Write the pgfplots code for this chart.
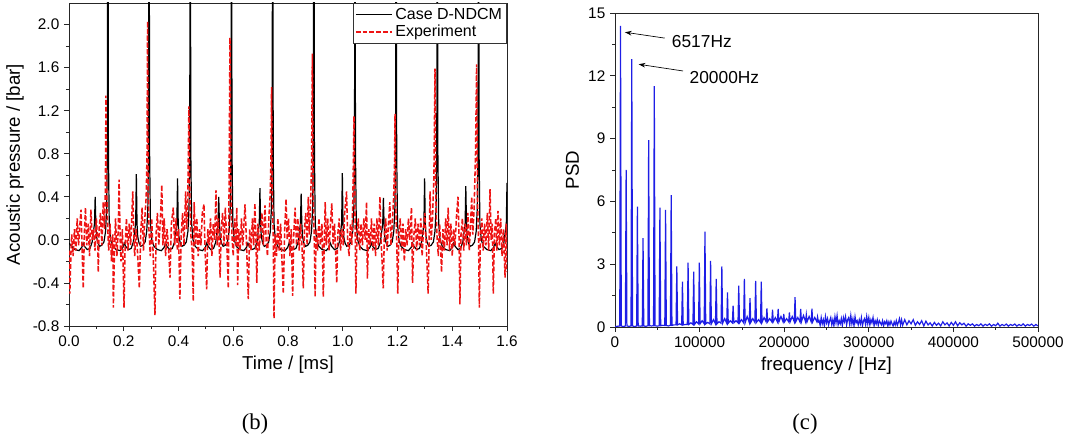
\documentclass[border=0pt]{standalone}
\usepackage{fontspec}
\setmainfont{Liberation Sans}
\newfontfamily\serifb{Liberation Serif}
\usepackage{pgfplots}
\pgfplotsset{compat=1.18}
\usetikzlibrary{arrows.meta}
\definecolor{expred}{RGB}{238,20,20}
\definecolor{psdblue}{RGB}{30,30,230}
\pgfplotsset{
  common/.style={
    scale only axis,
    axis line style={line width=0.7pt, black!85},
    tick align=outside,
    xtick pos=left, ytick pos=left,
    major tick length=3.75pt, minor tick length=2.25pt,
    every tick/.style={black!85, line width=0.6pt},
    minor x tick num=1, minor y tick num=1,
    /pgf/number format/assume math mode=true,
    tick label style={font=\fontsize{11.5}{13}\selectfont},
    label style={font=\fontsize{14}{16}\selectfont},
  }
}
\begin{document}
\begin{tikzpicture}
\useasboundingbox (0,0) rectangle (801pt,330.75pt);
\begin{axis}[common,
  at={(51.75pt,86.25pt)}, anchor=south west,
  width=328.5pt, height=242.25pt,
  xmin=0, xmax=1.6, ymin=-0.8, ymax=2.2,
  xtick={0,0.2,...,1.6}, ytick={-0.8,-0.4,0,0.4,0.8,1.2,1.6,2.0},
  xticklabel style={/pgf/number format/.cd, fixed, fixed zerofill, precision=1},
  yticklabel style={/pgf/number format/.cd, fixed, fixed zerofill, precision=1},
  xlabel={Time / [ms]}, ylabel={Acoustic pressure / [bar]},
  legend style={at={(1,1)}, anchor=north east, draw=black!80, line width=0.5pt,
    font=\fontsize{12}{13}\selectfont, inner sep=1.5pt, row sep=-1pt},
  legend cell align=left,
  legend image code/.code={\draw[#1] (0pt,0pt) -- (27pt,0pt);},
]
\addplot[black, line width=0.9pt] coordinates {
(0.000,-0.03)(0.0096,-0.06)(0.0216,-0.09)(0.0366,-0.10)(0.0466,-0.07)(0.0516,-0.03)(0.0566,-0.06)(0.0666,-0.09)(0.0766,-0.08)(0.0846,-0.02)
(0.0906,0.10)(0.0931,0.15)(0.0956,0.40)(0.0981,0.15)(0.1006,0.03)(0.1056,-0.03)(0.1116,-0.06)(0.1196,-0.05)(0.1276,-0.02)(0.1336,0.08)(0.1376,0.3)(0.1401,0.8)
(0.142,4.0)(0.144,0.8)(0.147,0.15)(0.152,0.0)(0.160,-0.06)(0.172,-0.09)(0.187,-0.10)(0.197,-0.07)(0.202,-0.03)(0.207,-0.06)(0.217,-0.09)(0.227,-0.08)(0.235,-0.02)
(0.241,0.10)(0.2435,0.15)(0.246,0.61)(0.2485,0.15)(0.251,0.03)(0.256,-0.03)(0.262,-0.06)(0.270,-0.05)(0.278,-0.02)(0.284,0.08)(0.288,0.3)(0.2905,0.8)
(0.2925,4.0)(0.2945,0.8)(0.2975,0.15)(0.3025,0.0)(0.3105,-0.06)(0.3225,-0.09)(0.3375,-0.10)(0.3475,-0.07)(0.3525,-0.03)(0.3575,-0.06)(0.3675,-0.09)(0.3775,-0.08)(0.3855,-0.02)
(0.3915,0.10)(0.3940,0.15)(0.3965,0.57)(0.3990,0.15)(0.4015,0.03)(0.4065,-0.03)(0.4125,-0.06)(0.4205,-0.05)(0.4285,-0.02)(0.4345,0.08)(0.4385,0.3)(0.4410,0.8)
(0.443,4.0)(0.445,0.8)(0.448,0.15)(0.453,0.0)(0.461,-0.06)(0.473,-0.09)(0.488,-0.10)(0.498,-0.07)(0.503,-0.03)(0.508,-0.06)(0.518,-0.09)(0.528,-0.08)(0.536,-0.02)
(0.542,0.10)(0.5445,0.15)(0.547,0.40)(0.5495,0.15)(0.552,0.03)(0.557,-0.03)(0.563,-0.06)(0.571,-0.05)(0.579,-0.02)(0.585,0.08)(0.589,0.3)(0.5915,0.8)
(0.5935,4.0)(0.5955,0.8)(0.5985,0.15)(0.6035,0.0)(0.6115,-0.06)(0.6235,-0.09)(0.6385,-0.10)(0.6485,-0.07)(0.6535,-0.03)(0.6585,-0.06)(0.6685,-0.09)(0.6785,-0.08)(0.6865,-0.02)
(0.6925,0.10)(0.6950,0.15)(0.6975,0.48)(0.7000,0.15)(0.7025,0.03)(0.7075,-0.03)(0.7135,-0.06)(0.7215,-0.05)(0.7295,-0.02)(0.7355,0.08)(0.7395,0.3)(0.7420,0.8)
(0.744,4.0)(0.746,0.8)(0.749,0.15)(0.754,0.0)(0.762,-0.06)(0.774,-0.09)(0.789,-0.10)(0.799,-0.07)(0.804,-0.03)(0.809,-0.06)(0.819,-0.09)(0.829,-0.08)(0.837,-0.02)
(0.843,0.10)(0.8455,0.15)(0.848,0.43)(0.8505,0.15)(0.853,0.03)(0.858,-0.03)(0.864,-0.06)(0.872,-0.05)(0.880,-0.02)(0.886,0.08)(0.890,0.3)(0.8925,0.8)
(0.8945,4.0)(0.8965,0.8)(0.8995,0.15)(0.9045,0.0)(0.9125,-0.06)(0.9245,-0.09)(0.9395,-0.10)(0.9495,-0.07)(0.9545,-0.03)(0.9595,-0.06)(0.9695,-0.09)(0.9795,-0.08)(0.9875,-0.02)
(0.9935,0.10)(0.9960,0.15)(0.9985,0.62)(1.0010,0.15)(1.0035,0.03)(1.0085,-0.03)(1.0145,-0.06)(1.0225,-0.05)(1.0305,-0.02)(1.0365,0.08)(1.0405,0.3)(1.0430,0.8)
(1.0445,4.0)(1.0465,0.8)(1.0495,0.15)(1.0545,0.0)(1.0625,-0.06)(1.0745,-0.09)(1.0895,-0.10)(1.0995,-0.07)(1.1045,-0.03)(1.1095,-0.06)(1.1195,-0.09)(1.1295,-0.08)(1.1375,-0.02)
(1.1435,0.10)(1.1460,0.15)(1.1485,0.39)(1.1510,0.15)(1.1535,0.03)(1.1585,-0.03)(1.1645,-0.06)(1.1725,-0.05)(1.1805,-0.02)(1.1865,0.08)(1.1905,0.3)(1.1930,0.8)
(1.195,4.0)(1.197,0.8)(1.200,0.15)(1.205,0.0)(1.213,-0.06)(1.225,-0.09)(1.240,-0.10)(1.250,-0.07)(1.255,-0.03)(1.260,-0.06)(1.270,-0.09)(1.280,-0.08)(1.288,-0.02)
(1.294,0.10)(1.2965,0.15)(1.299,0.57)(1.3015,0.15)(1.304,0.03)(1.309,-0.03)(1.315,-0.06)(1.323,-0.05)(1.331,-0.02)(1.337,0.08)(1.341,0.3)(1.3435,0.8)
(1.3455,4.0)(1.3475,0.8)(1.3505,0.15)(1.3555,0.0)(1.3635,-0.06)(1.3755,-0.09)(1.3905,-0.10)(1.4005,-0.07)(1.4055,-0.03)(1.4105,-0.06)(1.4205,-0.09)(1.4305,-0.08)(1.4385,-0.02)
(1.4445,0.10)(1.4470,0.15)(1.4495,0.50)(1.4520,0.15)(1.4545,0.03)(1.4595,-0.03)(1.4655,-0.06)(1.4735,-0.05)(1.4815,-0.02)(1.4875,0.08)(1.4915,0.3)(1.4940,0.8)
(1.496,4.0)(1.498,0.8)(1.501,0.15)(1.506,0.0)(1.514,-0.06)(1.526,-0.09)(1.541,-0.10)(1.551,-0.07)(1.556,-0.03)(1.561,-0.06)(1.571,-0.09)(1.581,-0.08)(1.589,-0.02)
(1.595,0.10)(1.5975,0.15)(1.600,0.53)
};
\addplot[expred, line width=1.15pt, dash pattern=on 3.5pt off 1.6pt] coordinates {
(0.000,-0.10)(0.003,-0.50)(0.008,-0.05)(0.010,0.05)(0.015,-0.15)(0.020,0.10)(0.025,-0.10)(0.030,0.20)(0.035,-0.05)(0.040,0.15)
(0.044,0.28)(0.048,-0.10)(0.052,-0.45)(0.056,0.05)(0.060,0.30)(0.065,-0.05)(0.070,0.15)(0.075,-0.15)(0.080,0.28)(0.085,0.00)
(0.090,0.10)(0.095,-0.10)(0.100,0.20)(0.105,-0.05)(0.107,-0.30)(0.110,0.10)(0.115,0.25)(0.120,-0.05)(0.125,0.35)(0.130,0.10)
(0.133,0.50)(0.135,1.34)(0.137,0.60)(0.140,0.20)(0.145,-0.10)(0.150,0.15)(0.155,-0.20)(0.160,0.05)(0.162,-0.63)(0.166,-0.10)
(0.170,0.20)(0.175,-0.15)(0.180,0.10)(0.183,0.56)(0.187,0.00)(0.190,-0.20)(0.195,0.10)(0.201,-0.63)(0.205,-0.05)(0.210,0.20)
(0.215,-0.10)(0.220,0.15)(0.225,-0.05)(0.230,0.25)(0.233,0.45)(0.237,0.00)(0.240,-0.15)(0.245,0.10)(0.250,-0.10)(0.257,-0.45)
(0.262,0.05)(0.267,0.30)(0.272,-0.10)(0.277,0.20)(0.282,0.40)(0.285,0.80)(0.287,2.03)(0.289,0.60)(0.292,0.10)(0.297,-0.15)
(0.302,0.20)(0.307,-0.10)(0.314,-0.70)(0.318,0.05)(0.323,0.25)(0.328,-0.05)(0.333,0.15)(0.339,0.51)(0.343,-0.05)(0.348,0.20)
(0.353,-0.15)(0.358,0.10)(0.363,-0.05)(0.369,-0.35)(0.374,0.15)(0.381,0.30)(0.386,-0.05)(0.391,0.20)(0.396,-0.10)(0.400,0.10)
(0.405,-0.55)(0.410,0.05)(0.415,0.25)(0.420,-0.05)(0.426,0.45)(0.430,0.10)(0.434,0.40)(0.438,1.24)(0.441,0.50)(0.445,0.05)
(0.450,-0.10)(0.454,-0.57)(0.457,0.35)(0.462,-0.05)(0.467,0.20)(0.472,-0.15)(0.477,0.10)(0.482,-0.05)(0.487,0.25)(0.493,0.33)
(0.497,-0.10)(0.503,-0.46)(0.507,0.10)(0.512,-0.05)(0.517,0.20)(0.522,-0.15)(0.527,0.15)(0.532,0.00)(0.537,0.46)(0.541,-0.05)
(0.546,0.20)(0.552,-0.35)(0.556,0.10)(0.561,0.25)(0.566,-0.05)(0.571,0.30)(0.576,0.00)(0.582,-0.45)(0.585,0.60)(0.588,1.88)
(0.591,0.50)(0.595,0.05)(0.600,-0.15)(0.605,0.20)(0.610,-0.05)(0.613,0.30)(0.616,-0.42)(0.620,0.10)(0.625,-0.10)(0.630,0.20)
(0.635,-0.05)(0.643,0.33)(0.648,0.00)(0.655,-0.55)(0.660,0.10)(0.665,-0.10)(0.670,0.20)(0.675,-0.05)(0.679,0.34)(0.683,0.00)
(0.686,-0.40)(0.690,0.15)(0.695,-0.10)(0.700,0.10)(0.705,0.25)(0.710,-0.05)(0.716,0.32)(0.720,0.00)(0.725,-0.15)(0.730,0.20)
(0.735,0.42)(0.738,0.80)(0.740,1.42)(0.742,0.50)(0.746,0.05)(0.749,-0.73)(0.753,0.05)(0.758,-0.15)(0.763,0.20)(0.768,-0.10)
(0.773,0.15)(0.778,-0.20)(0.783,-0.50)(0.788,0.10)(0.793,0.38)(0.797,0.00)(0.802,0.20)(0.807,-0.15)(0.812,0.10)(0.817,-0.52)
(0.821,0.05)(0.826,0.30)(0.831,-0.05)(0.836,0.20)(0.841,-0.10)(0.846,0.15)(0.851,-0.05)(0.856,-0.45)(0.860,0.10)(0.865,0.25)
(0.870,-0.05)(0.874,0.40)(0.878,0.05)(0.882,0.30)(0.886,0.70)(0.889,1.73)(0.892,0.40)(0.896,0.00)(0.899,-0.53)(0.903,0.10)
(0.908,-0.10)(0.913,0.20)(0.918,-0.05)(0.924,0.15)(0.929,-0.53)(0.933,0.05)(0.936,0.35)(0.940,-0.05)(0.945,0.20)(0.950,-0.10)
(0.955,0.15)(0.960,0.34)(0.965,-0.05)(0.970,0.15)(0.978,-0.40)(0.982,0.05)(0.987,0.20)(0.992,-0.10)(0.997,0.10)(1.002,-0.05)
(1.007,0.25)(1.014,0.45)(1.018,0.00)(1.023,-0.15)(1.028,0.15)(1.033,-0.05)(1.037,0.40)(1.041,1.15)(1.044,0.40)(1.048,-0.50)
(1.052,0.05)(1.057,0.20)(1.062,-0.10)(1.067,0.15)(1.072,-0.05)(1.077,0.20)(1.082,0.00)(1.087,0.35)(1.090,-0.36)(1.095,0.10)
(1.100,-0.05)(1.105,0.20)(1.110,-0.10)(1.115,0.15)(1.120,-0.15)(1.125,0.20)(1.130,-0.05)(1.136,0.40)(1.140,0.00)(1.148,-0.45)
(1.152,0.05)(1.157,0.20)(1.162,-0.10)(1.167,0.15)(1.172,0.35)(1.176,-0.05)(1.181,0.15)(1.186,0.40)(1.189,0.70)(1.191,1.17)
(1.194,0.30)(1.197,0.00)(1.201,-0.50)(1.205,0.05)(1.210,0.20)(1.215,-0.10)(1.220,0.15)(1.225,-0.20)(1.230,0.10)(1.235,-0.05)
(1.240,0.20)(1.245,0.00)(1.251,0.30)(1.255,-0.40)(1.260,0.05)(1.265,0.20)(1.270,-0.10)(1.275,0.15)(1.280,-0.05)(1.285,0.20)
(1.290,-0.15)(1.295,0.10)(1.300,0.25)(1.305,-0.05)(1.312,-0.50)(1.316,0.05)(1.319,0.45)(1.323,0.00)(1.328,0.20)(1.333,0.60)
(1.337,1.59)(1.340,0.40)(1.344,0.05)(1.349,-0.15)(1.354,0.15)(1.361,-0.30)(1.366,0.10)(1.371,-0.10)(1.376,0.20)(1.381,-0.05)
(1.385,0.30)(1.390,-0.10)(1.395,0.15)(1.400,-0.15)(1.405,0.10)(1.410,-0.05)(1.415,0.20)(1.421,0.40)(1.425,0.00)(1.428,-0.60)
(1.432,0.05)(1.437,0.20)(1.442,-0.10)(1.447,0.15)(1.452,-0.05)(1.457,0.25)(1.462,-0.10)(1.467,0.15)(1.471,0.40)(1.475,0.05)
(1.480,0.30)(1.485,0.80)(1.489,1.63)(1.492,0.40)(1.496,0.00)(1.499,-0.63)(1.503,0.05)(1.508,0.20)(1.513,-0.10)(1.518,0.15)
(1.523,-0.05)(1.528,0.25)(1.533,-0.10)(1.538,0.47)(1.542,0.00)(1.546,0.15)(1.550,-0.50)(1.554,0.05)(1.559,0.20)(1.563,-0.10)
(1.567,0.27)(1.572,-0.05)(1.577,0.20)(1.582,-0.15)(1.587,0.10)(1.593,-0.35)(1.597,0.15)(1.600,-0.30)
};
\legend{Case D-NDCM, Experiment}
\end{axis}
\begin{axis}[common,
  at={(461.25pt,85.5pt)}, anchor=south west,
  width=317.25pt, height=235.5pt,
  xmin=0, xmax=500000, ymin=0, ymax=15,
  xtick={0,100000,...,500000}, ytick={0,3,...,15},
  scaled x ticks=false,
  xticklabel style={/pgf/number format/.cd, fixed, 1000 sep={}},
  xlabel={frequency / [Hz]}, ylabel={PSD},
]
\addplot[psdblue, line width=0.9pt] coordinates {
(0,0.02)(2000,0.03)(5617,0.05)(6517,14.38)(7417,0.05)(9844,0.02)
(12272,0.05)(13172,7.5)(14072,0.05)(16499,0.03)
(18927,0.05)(19827,12.8)(20727,0.05)(23154,0.02)
(25582,0.05)(26482,5.75)(27382,0.05)(29809,0.04)
(32237,0.05)(33137,4.24)(34037,0.05)(36464,0.03)
(38892,0.06)(39792,8.93)(40692,0.06)(43119,0.05)
(45547,0.06)(46447,11.51)(47347,0.06)(49774,0.04)
(52202,0.06)(53102,5.7)(54002,0.06)(56429,0.08)
(58857,0.07)(59757,5.6)(60657,0.07)(63084,0.05)
(65512,0.08)(66412,6.3)(67312,0.08)(69739,0.10)
(72167,0.10)(73067,2.89)(73967,0.10)(76394,0.15)
(78822,0.10)(79722,2.17)(80622,0.10)(83049,0.12)
(85477,0.12)(86377,3.08)(87277,0.12)(89704,0.20)
(92132,0.12)(93032,2.65)(93932,0.12)(96359,0.25)
(98787,0.15)(99687,3.08)(100587,0.15)(103014,0.30)
(105442,0.15)(106342,4.56)(107242,0.15)(109669,0.22)
(112097,0.15)(112997,3.16)(113897,0.15)(116324,0.35)
(118752,0.15)(119652,2.30)(120552,0.15)(122979,0.25)
(125407,0.18)(126307,2.89)(127207,0.18)(129634,0.40)
(132062,0.18)(132962,1.65)(133862,0.18)(136289,0.30)
(138717,0.20)(139617,1.02)(140517,0.20)(142944,0.30)
(145372,0.20)(146272,1.97)(147172,0.20)(149599,0.35)
(152027,0.20)(152927,2.30)(153827,0.20)(156254,0.50)
(158682,0.22)(159582,1.38)(160482,0.22)(162909,0.40)
(165337,0.22)(166237,2.20)(167137,0.22)(169564,0.35)
(171992,0.22)(172892,2.17)(173792,0.22)(176219,0.45)
(178647,0.25)(179547,0.89)(180447,0.25)(182874,0.40)
(185302,0.25)(186202,0.83)(187102,0.25)(189529,0.45)
(191957,0.25)(192857,0.86)(193757,0.25)(196184,0.50)
(198612,0.25)(199512,0.62)(200412,0.25)(202839,0.40)
(205267,0.25)(206167,0.70)(207067,0.25)(209494,0.50)
(211922,0.25)(212822,1.43)(213722,0.25)(216149,0.45)
(218577,0.25)(219477,0.86)(220377,0.25)(222804,0.55)
(225232,0.25)(226132,0.59)(227032,0.25)(229459,0.50)
(231887,0.25)(232787,0.87)(233687,0.25)(236114,0.45)
(238542,0.25)(239442,0.48)(240342,0.25)
(241250,0.30)(242500,0.08)(243750,0.45)(245000,0.15)(246250,0.35)(247500,0.05)(248750,0.50)(250000,0.20)(251250,0.40)(252500,0.10)
(253750,0.30)(255000,0.45)(256250,0.10)(257500,0.35)(258750,0.05)(260000,0.50)(261250,0.20)(262500,0.55)(263750,0.10)(265000,0.30)
(266250,0.15)(267500,0.40)(268750,0.05)(270000,0.45)(271250,0.25)(272500,0.50)(273750,0.10)(275000,0.35)(276250,0.45)(277500,0.10)
(278750,0.55)(280000,0.15)(281250,0.40)(282500,0.05)(283750,0.50)(285000,0.20)(286250,0.30)(287500,0.10)(288750,0.35)(290000,0.15)
(291250,0.45)(292500,0.05)(293750,0.30)(295000,0.40)(296250,0.10)(297500,0.50)(298750,0.15)(300000,0.45)(301250,0.10)(302500,0.35)
(303750,0.20)(305000,0.45)(306250,0.05)(307500,0.30)(308750,0.15)(310000,0.35)(311250,0.08)(312500,0.30)(313750,0.20)(315000,0.10)
(316250,0.30)(317500,0.05)(318750,0.25)(320000,0.15)(321250,0.30)(322500,0.05)(323750,0.25)(325000,0.10)(326250,0.28)(327500,0.15)
(328750,0.05)(330000,0.25)(331250,0.10)(332500,0.30)(333750,0.08)(335000,0.22)(336250,0.40)(337500,0.10)(338750,0.35)(340000,0.08)
(342500,0.35)(345000,0.10)(347500,0.30)(350000,0.15)(352500,0.35)(355000,0.08)(357500,0.25)(360000,0.12)(362500,0.30)(365000,0.05)
(367500,0.28)(370000,0.10)(372500,0.20)(375000,0.05)(377500,0.22)(380000,0.08)(382500,0.18)(385000,0.05)(387500,0.25)(390000,0.10)
(392500,0.20)(395000,0.05)(397500,0.22)(400000,0.08)(402500,0.25)(405000,0.06)(407500,0.20)(410000,0.10)(412500,0.18)(415000,0.04)
(417500,0.15)(420000,0.08)(422500,0.15)(425000,0.04)(427500,0.12)(430000,0.06)(432500,0.15)(435000,0.04)(437500,0.13)(440000,0.07)
(442500,0.15)(445000,0.04)(447500,0.12)(450000,0.06)(452500,0.18)(455000,0.04)(457500,0.12)(460000,0.06)(462500,0.14)(465000,0.04)
(467500,0.12)(470000,0.07)(472500,0.14)(475000,0.04)(477500,0.12)(480000,0.06)(482500,0.15)(485000,0.04)(487500,0.12)(490000,0.07)
(492500,0.14)(495000,0.04)(497500,0.12)(500000,0.05)
};
\draw[-{Stealth[length=5pt,width=3.5pt]}, line width=0.5pt] (axis cs:58750,13.8) -- (axis cs:11800,14.08);
\draw[-{Stealth[length=5pt,width=3.5pt]}, line width=0.5pt] (axis cs:80400,12.23) -- (axis cs:28000,12.55);
\node[anchor=west, inner sep=0pt, font=\fontsize{13}{15}\selectfont] at (axis cs:67000,13.66) {6517Hz};
\node[anchor=west, inner sep=0pt, font=\fontsize{13}{15}\selectfont] at (axis cs:88000,11.93) {20000Hz};
\end{axis}
\node[font=\serifb\fontsize{17}{19}\selectfont] at (191.25pt,12.75pt) {(b)};
\node[font=\serifb\fontsize{17}{19}\selectfont] at (603.75pt,12.75pt) {(c)};
\end{tikzpicture}
\end{document}
